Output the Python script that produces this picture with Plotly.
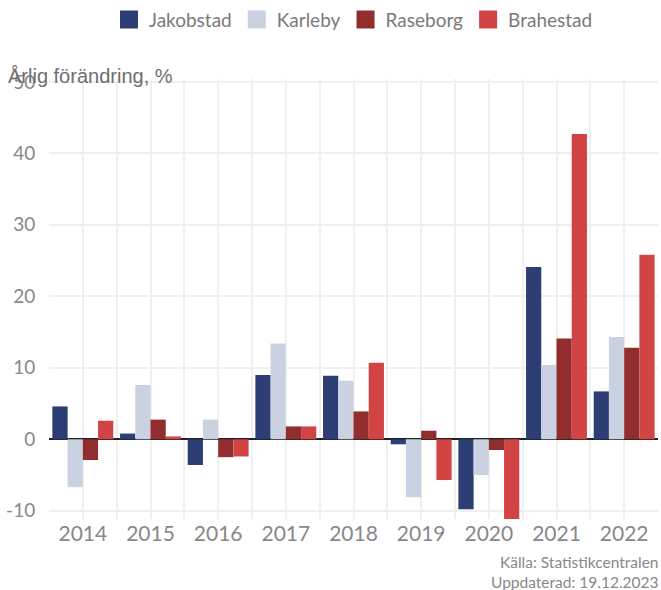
import plotly.graph_objects as go

years = ["2014", "2015", "2016", "2017", "2018", "2019", "2020", "2021", "2022"]
jakobstad = [4.6, 0.8, -3.6, 9.0, 8.9, -0.7, -9.8, 24.1, 6.7]
karleby = [-6.7, 7.6, 2.75, 13.4, 8.2, -8.1, -5.0, 10.4, 14.3]
raseborg = [-2.9, 2.75, -2.5, 1.8, 3.9, 1.2, -1.5, 14.1, 12.8]
brahestad = [2.6, 0.4, -2.4, 1.8, 10.7, -5.7, -11.4, 42.7, 25.8]

series_names = ["Jakobstad", "Karleby", "Raseborg", "Brahestad"]
series_values = [jakobstad, karleby, raseborg, brahestad]
colors = ["#2C3E73", "#CAD1E1", "#922D2E", "#D24444"]

y_ticks = [-10, 0, 10, 20, 30, 40, 50]
y_ticklabels = ["-10", "0", "10", "20", "30", "40", "50"]
source_lines = ["Källa: Statistikcentralen", "Uppdaterad: 19.12.2023"]
y_title = "Årlig förändring, %"

x_pos = list(range(len(years)))

fig = go.Figure()
for name, vals, col in zip(series_names, series_values, colors):
    fig.add_trace(go.Bar(x=x_pos, y=vals, name=name, marker=dict(color=col, line=dict(width=0)),
                         showlegend=False))
# legend entries with larger square swatches
for name, col in zip(series_names, colors):
    fig.add_trace(go.Scatter(x=[None], y=[None], mode="markers", name=name,
                             marker=dict(symbol="square", size=16, color=col,
                                         line=dict(color=col, width=2))))

tick_font = "Lato, 'Noto Sans', sans-serif"

fig.update_layout(
    width=661, height=590,
    margin=dict(l=49, r=3, t=79, b=71, autoexpand=False),
    paper_bgcolor="white", plot_bgcolor="white",
    barmode="group", bargap=0.1, bargroupgap=0,
    font=dict(family=tick_font, color="#888888"),
    legend=dict(orientation="h", x=0.5, xanchor="center", y=0.999, yanchor="top",
                yref="container", font=dict(size=19, color="#7a7a7a", family=tick_font),
                itemsizing="trace", tracegroupgap=0),
    xaxis=dict(
        range=[-0.5, len(years) - 0.5],
        tickmode="array", tickvals=x_pos, ticktext=years,
        tickfont=dict(size=21, color="#888888"),
        showgrid=True, gridcolor="#F0F0F0", gridwidth=2,
        minor=dict(tick0=-0.5, dtick=1, showgrid=True, gridcolor="#F0F0F0", gridwidth=2),
        zeroline=False, showline=False,
        ticks="",
        fixedrange=True,
    ),
    yaxis=dict(
        range=[-11.15, 50.4],
        tickmode="array", tickvals=y_ticks, ticktext=y_ticklabels,
        tickfont=dict(size=19, color="#888888"),
        showgrid=True, gridcolor="#F0F0F0", gridwidth=2,
        zeroline=True, zerolinecolor="#222222", zerolinewidth=2,
        showline=False,
        ticks="outside", ticklen=9, tickcolor="rgba(0,0,0,0)",
        fixedrange=True,
    ),
    annotations=[
        dict(text=y_title, xref="paper", yref="paper", x=-0.07, y=1.007,
             xanchor="left", yanchor="middle", showarrow=False,
             font=dict(family="'Liberation Sans', Arial, sans-serif", size=20, color="#6E6E6E")),
        dict(text="<br>".join(source_lines), xref="paper", yref="paper", x=1.005, y=-0.073,
             xanchor="right", yanchor="top", align="right", showarrow=False,
             font=dict(family=tick_font, size=15.5, color="#888888")),
    ],
)

fig.write_html("out.html", config={"displayModeBar": False},
               post_script="document.body.style.margin='0';")
